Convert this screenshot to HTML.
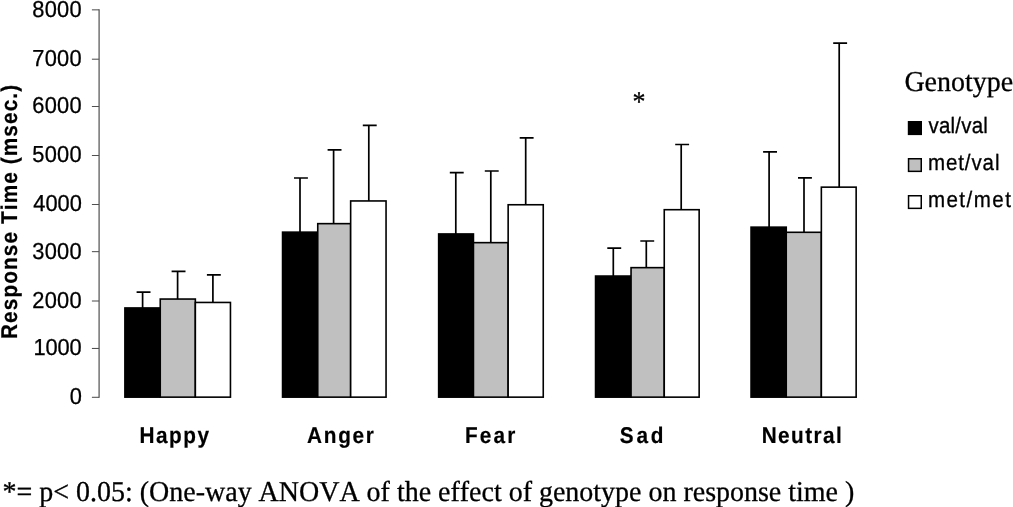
<!DOCTYPE html>
<html><head><meta charset="utf-8"><title>Response time by genotype</title>
<style>
html,body{margin:0;padding:0;background:#fff;}
body{width:1013px;height:507px;overflow:hidden;}
svg{display:block;will-change:transform;}
.s{font-family:"Liberation Sans",sans-serif;}
.t{font-family:"Liberation Serif",serif;}
text{fill:#000;font-kerning:none;}
.r{stroke:#000;stroke-width:0.3px;}
.b{stroke:#000;stroke-width:0.2px;}
</style></head><body>
<svg width="1013" height="507" viewBox="0 0 1013 507" text-rendering="geometricPrecision">
<rect width="1013" height="507" fill="#fff"/>

<g fill="none">
<path d="M99.1 9.25V397.85" stroke="#5c5c5c" stroke-width="1.3"/>
<path d="M91.9 397.30H99.1" stroke="#505050" stroke-width="1.05"/>
<path d="M91.9 348.45H99.1" stroke="#505050" stroke-width="1.05"/>
<path d="M91.9 301.00H99.1" stroke="#505050" stroke-width="1.05"/>
<path d="M91.9 251.65H99.1" stroke="#505050" stroke-width="1.05"/>
<path d="M91.9 204.50H99.1" stroke="#505050" stroke-width="1.05"/>
<path d="M91.9 155.50H99.1" stroke="#505050" stroke-width="1.05"/>
<path d="M91.9 106.50H99.1" stroke="#505050" stroke-width="1.05"/>
<path d="M91.9 59.20H99.1" stroke="#505050" stroke-width="1.05"/>
<path d="M91.9 9.85H99.1" stroke="#505050" stroke-width="1.05"/>
</g>
<text class="s r" font-size="23.1" transform="translate(69.63 403.85) scale(0.945 1)">0</text>
<text class="s r" font-size="23.1" letter-spacing="-0.1" transform="translate(33.43 354.85) scale(0.945 1)">1000</text>
<text class="s r" font-size="23.1" letter-spacing="0.287" transform="translate(32.30 307.5) scale(0.945 1)">2000</text>
<text class="s r" font-size="23.1" letter-spacing="0.254" transform="translate(32.34 258.5) scale(0.945 1)">3000</text>
<text class="s r" font-size="23.1" letter-spacing="-0.001" transform="translate(33.30 211.35) scale(0.945 1)">4000</text>
<text class="s r" font-size="23.1" letter-spacing="0.272" transform="translate(32.32 162.35) scale(0.945 1)">5000</text>
<text class="s r" font-size="23.1" letter-spacing="0.287" transform="translate(32.30 113.35) scale(0.945 1)">6000</text>
<text class="s r" font-size="23.1" letter-spacing="0.287" transform="translate(32.30 65.6) scale(0.945 1)">7000</text>
<text class="s r" font-size="23.1" letter-spacing="0.287" transform="translate(32.30 16.6) scale(0.945 1)">8000</text>
<path d="M142.6 292.1V307.95M136.60 292.1H150.50" stroke="#000" stroke-width="1.7" fill="none"/>
<path d="M177.6 271.3V299.05M171.60 271.3H185.50" stroke="#000" stroke-width="1.7" fill="none"/>
<path d="M212.9 274.8V302.45M206.90 274.8H220.80" stroke="#000" stroke-width="1.7" fill="none"/>
<rect x="124.9" y="307.95" width="35.35" height="89.20" fill="#000" stroke="#000" stroke-width="1.6"/>
<rect x="160.25" y="299.05" width="35.10" height="98.10" fill="#c0c0c0" stroke="#000" stroke-width="1.6"/>
<rect x="195.35" y="302.45" width="35.10" height="94.70" fill="#fff" stroke="#000" stroke-width="1.6"/>
<path d="M300.0 178.0V232.15M294.00 178.0H307.90" stroke="#000" stroke-width="1.7" fill="none"/>
<path d="M333.6 149.9V223.65M327.60 149.9H341.50" stroke="#000" stroke-width="1.7" fill="none"/>
<path d="M368.8 125.4V200.95M362.80 125.4H376.70" stroke="#000" stroke-width="1.7" fill="none"/>
<rect x="282.55" y="232.15" width="35.20" height="165.00" fill="#000" stroke="#000" stroke-width="1.6"/>
<rect x="317.75" y="223.65" width="32.90" height="173.50" fill="#c0c0c0" stroke="#000" stroke-width="1.6"/>
<rect x="350.65" y="200.95" width="35.40" height="196.20" fill="#fff" stroke="#000" stroke-width="1.6"/>
<path d="M455.8 172.6V233.95M449.80 172.6H463.70" stroke="#000" stroke-width="1.7" fill="none"/>
<path d="M490.8 171.0V242.65M484.80 171.0H498.70" stroke="#000" stroke-width="1.7" fill="none"/>
<path d="M525.7 137.8V204.75M519.70 137.8H533.60" stroke="#000" stroke-width="1.7" fill="none"/>
<rect x="438.65" y="233.95" width="34.80" height="163.20" fill="#000" stroke="#000" stroke-width="1.6"/>
<rect x="473.45" y="242.65" width="34.70" height="154.50" fill="#c0c0c0" stroke="#000" stroke-width="1.6"/>
<rect x="508.15" y="204.75" width="35.10" height="192.40" fill="#fff" stroke="#000" stroke-width="1.6"/>
<path d="M613.3 248.1V276.05M607.30 248.1H621.20" stroke="#000" stroke-width="1.7" fill="none"/>
<path d="M646.3 241.0V267.65M640.30 241.0H654.20" stroke="#000" stroke-width="1.7" fill="none"/>
<path d="M681.2 144.5V209.7M675.20 144.5H689.10" stroke="#000" stroke-width="1.7" fill="none"/>
<rect x="595.55" y="276.05" width="35.50" height="121.10" fill="#000" stroke="#000" stroke-width="1.6"/>
<rect x="631.05" y="267.65" width="33.20" height="129.50" fill="#c0c0c0" stroke="#000" stroke-width="1.6"/>
<rect x="664.25" y="209.7" width="34.90" height="187.45" fill="#fff" stroke="#000" stroke-width="1.6"/>
<path d="M769.1 151.8V227.15M763.10 151.8H777.00" stroke="#000" stroke-width="1.7" fill="none"/>
<path d="M804.0 177.9V232.3M798.00 177.9H811.90" stroke="#000" stroke-width="1.7" fill="none"/>
<path d="M839.2 43.1V187.15M833.20 43.1H847.10" stroke="#000" stroke-width="1.7" fill="none"/>
<rect x="751.05" y="227.15" width="35.20" height="170.00" fill="#000" stroke="#000" stroke-width="1.6"/>
<rect x="786.25" y="232.3" width="35.10" height="164.85" fill="#c0c0c0" stroke="#000" stroke-width="1.6"/>
<rect x="821.35" y="187.15" width="34.80" height="210.00" fill="#fff" stroke="#000" stroke-width="1.6"/>
<text class="s b" font-weight="bold" font-size="22.8" letter-spacing="1.69" transform="translate(139.40 442.7) scale(0.91 1)">Happy</text>
<text class="s b" font-weight="bold" font-size="22.8" letter-spacing="1.859" transform="translate(307.12 442.7) scale(0.91 1)">Anger</text>
<text class="s b" font-weight="bold" font-size="22.8" letter-spacing="2.397" transform="translate(465.00 442.7) scale(0.91 1)">Fear</text>
<text class="s b" font-weight="bold" font-size="22.8" letter-spacing="3.041" transform="translate(619.82 442.7) scale(0.91 1)">Sad</text>
<text class="s b" font-weight="bold" font-size="22.8" letter-spacing="1.556" transform="translate(761.70 442.7) scale(0.91 1)">Neutral</text>
<text class="s b" font-weight="bold" font-size="22.8" letter-spacing="1.23" transform="translate(16.8 339.00) rotate(-90) scale(0.91 1)">Response Time (msec.)</text>
<text class="t r" font-size="28.8" transform="translate(904.4 90.6) scale(0.972 1)">Genotype</text>
<rect x="908.55" y="121.75" width="12.7" height="12.6" fill="#000" stroke="#000" stroke-width="1.5"/>
<text class="s r" font-size="22.3" letter-spacing="0.218" transform="translate(928.50 133.2) scale(0.92 1)">val/val</text>
<rect x="908.55" y="158.75" width="12.7" height="12.6" fill="#c0c0c0" stroke="#000" stroke-width="1.5"/>
<text class="s r" font-size="22.3" letter-spacing="0.984" transform="translate(927.90 170.2) scale(0.92 1)">met/val</text>
<rect x="908.55" y="195.75" width="12.7" height="12.6" fill="#fff" stroke="#000" stroke-width="1.5"/>
<text class="s r" font-size="22.3" letter-spacing="1.619" transform="translate(927.90 206.7) scale(0.92 1)">met/met</text>
<text class="t r" font-size="28.8" transform="translate(632.55 110.9) scale(0.9 1)">*</text>
<text class="t r" font-size="28.8" transform="translate(2.60 500.9) scale(0.9712 1)">*= p&lt; 0.05: (One-way ANOVA of the effect of genotype on response time )</text>
</svg></body></html>
